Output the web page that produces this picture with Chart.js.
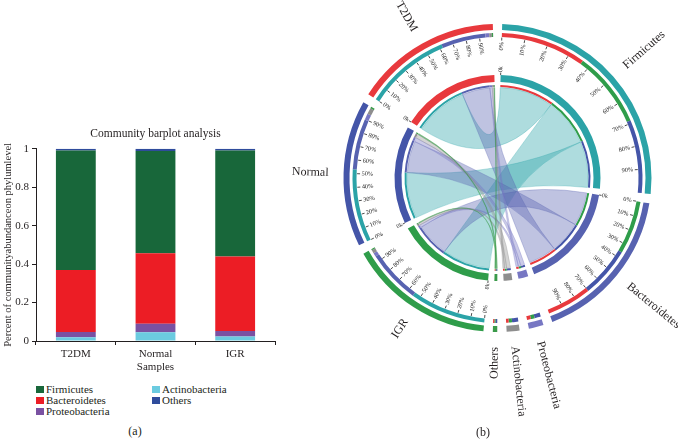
<!DOCTYPE html>
<html>
<head>
<meta charset="utf-8">
<script src="https://cdn.jsdelivr.net/npm/chart.js@4.4.1/dist/chart.umd.min.js"></script>
<style>
    body { margin: 0; background: #fff; width: 678px; height: 447px; overflow: hidden; position: relative;
           font-family: "Liberation Serif", "DejaVu Serif", serif; color: #231f20; }
    #bar { position: absolute; left: 0; top: 120px; }
    #chord { position: absolute; left: 290px; top: 0; }
    #legend { position: absolute; left: 36px; top: 384px; display: grid; grid-auto-flow: column;
              grid-template-rows: repeat(3, 11px); grid-template-columns: 116px 116px; font-size: 11px; line-height: 11px; }
    #legend span.box { display: inline-block; width: 8px; height: 7px; margin-right: 2px; vertical-align: 0px; }
    .cap { position: absolute; font-size: 12px; line-height: 12px; transform: translateX(-50%); }
</style>
</head>
<body>
<canvas id="bar" width="290" height="260"></canvas>
<canvas id="chord" width="388" height="447"></canvas>
<div id="legend"></div>
<div class="cap" style="left:135px; top:425px">(a)</div>
<div class="cap" style="left:483px; top:426px">(b)</div>
<script>
// values (fraction of each sample)
const samples = ['T2DM', 'Normal', 'IGR'];
const phyla = ['Firmicutes', 'Bacteroidetes', 'Proteobacteria', 'Actinobacteria', 'Others'];
const firmicutes = [0.621, 0.531, 0.551];
const bacteroidetes = [0.323, 0.367, 0.388];
const proteobacteria = [0.028, 0.045, 0.028];
const actinobacteria = [0.019, 0.045, 0.024];
const others = [0.009, 0.012, 0.009];
const yTicks = [0, 0.2, 0.4, 0.6, 0.8, 1];
const pctLabels = ['0%', '10%', '20%', '30%', '40%', '50%', '60%', '70%', '80%', '90%'];

// stacking order of the bars, bottom to top
const stackOrder = ['Actinobacteria', 'Proteobacteria', 'Bacteroidetes', 'Firmicutes', 'Others'];
// circle segments, clockwise from 12 o'clock
const circleOrder = ['Firmicutes', 'Bacteroidetes', 'Proteobacteria', 'Actinobacteria', 'Others', 'IGR', 'Normal', 'T2DM'];
// order of ribbons inside each phylum segment
const linkOrder = {
    Firmicutes: ['T2DM', 'IGR', 'Normal'],
    Bacteroidetes: ['IGR', 'Normal', 'T2DM'],
    Proteobacteria: ['Normal', 'IGR', 'T2DM'],
    Actinobacteria: ['Normal', 'IGR', 'T2DM'],
    Others: ['Normal', 'IGR', 'T2DM']
};

const SERIES = {
    Firmicutes: firmicutes, Bacteroidetes: bacteroidetes, Proteobacteria: proteobacteria,
    Actinobacteria: actinobacteria, Others: others
};
const BAR_COLORS = {
    Firmicutes: '#18673a', Bacteroidetes: '#ec1d25', Proteobacteria: '#7a51a2',
    Actinobacteria: '#6bcbe0', Others: '#2f4c9c'
};
const CIRCLE_COLORS = {
    T2DM: '#e8393d', Normal: '#4455a8', IGR: '#2f9d4a',
    Firmicutes: '#2ba3a7', Bacteroidetes: '#5762b0', Proteobacteria: '#7777c3',
    Actinobacteria: '#8e8e8e', Others: '#3a9a4a'
};
const INK = '#231f20';
const SERIF = '"Liberation Serif", "DejaVu Serif", serif';
Chart.defaults.font.family = SERIF;
Chart.defaults.color = INK;

const abundance = (sample, phylum) => SERIES[phylum][samples.indexOf(sample)];

function alpha(hex, a) {
    const n = parseInt(hex.slice(1), 16);
    return `rgba(${n >> 16}, ${(n >> 8) & 255}, ${n & 255}, ${a})`;
}

// ---------- (a) stacked bar ----------
new Chart(document.getElementById('bar'), {
    type: 'bar',
    data: {
        labels: samples,
        datasets: stackOrder.map(p => ({
            label: p,
            data: SERIES[p],
            backgroundColor: BAR_COLORS[p],
            borderWidth: 0,
            categoryPercentage: 1,
            barPercentage: 0.5
        }))
    },
    options: {
        responsive: false,
        animation: false,
        events: [],
        layout: { padding: { left: 0, right: 15, top: 0, bottom: 0 } },
        plugins: {
            legend: { display: false },
            tooltip: { enabled: false },
            title: {
                display: true,
                fullSize: false,
                text: 'Community barplot analysis',
                color: INK,
                font: { size: 11.5, weight: 'normal' },
                padding: { top: 7, bottom: 8 }
            }
        },
        scales: {
            x: {
                stacked: true,
                grid: { offset: true, drawOnChartArea: false, tickLength: 4, color: INK },
                border: { color: INK },
                ticks: { color: INK, font: { size: 11 }, padding: 3 },
                title: { display: true, text: 'Samples', color: INK, font: { size: 11 }, padding: { top: 0, bottom: 6 } },
                afterFit: s => { s.height = 39; }
            },
            y: {
                stacked: true,
                min: 0,
                max: 1,
                afterBuildTicks: axis => { axis.ticks = yTicks.map(v => ({ value: v })); },
                grid: { drawOnChartArea: false, tickLength: 4, color: INK },
                border: { color: INK },
                ticks: { color: INK, font: { size: 11 }, padding: 3, callback: v => String(v) },
                title: {
                    display: true, text: 'Percent of communityabundanceon phylumlevel', color: INK,
                    font: { size: 10.5 }, padding: { top: 2, bottom: 0 }
                },
                afterFit: s => { s.width = 36; }
            }
        }
    }
});

// legend, column-wise like the figure
const legendEl = document.getElementById('legend');
phyla.forEach(p => {
    const item = document.createElement('div');
    item.innerHTML = `<span class="box" style="background:${BAR_COLORS[p]}"></span>${p}`;
    legendEl.appendChild(item);
});

// ---------- (b) chord diagram ----------
const segments = circleOrder.map(name => {
    const isSample = samples.includes(name);
    const parts = isSample
        ? phyla.map(p => ({ other: p, value: abundance(name, p) }))
        : linkOrder[name].map(s => ({ other: s, value: abundance(s, name) }));
    return { name, isSample, parts, total: parts.reduce((a, b) => a + b.value, 0) };
});

const GAP_DEG = 3.5;
const grandTotal = segments.reduce((a, s) => a + s.total, 0);
const gapValue = grandTotal * GAP_DEG / (360 - GAP_DEG * segments.length);
const CLEAR = 'rgba(0,0,0,0)';

const segData = [], segColors = [], partData = [], partColors = [];
const partIndex = {};
segments.forEach(seg => {
    segData.push(seg.total, gapValue);
    segColors.push(CIRCLE_COLORS[seg.name], CLEAR);
    seg.parts.forEach(p => {
        partIndex[seg.name + '|' + p.other] = partData.length;
        partData.push(p.value);
        partColors.push(CIRCLE_COLORS[p.other]);
    });
    partData.push(gapValue);
    partColors.push(CLEAR);
});

const ring = (data, colors, weight) => ({
    data, backgroundColor: colors, weight, borderWidth: 0, hoverBorderWidth: 0, hoverOffset: 0, offset: 0
});
const spacer = weight => ring([grandTotal], [CLEAR], weight);

function radialText(ctx, cx, cy, ang, r, text, outward) {
    const right = Math.cos(ang) >= 0;
    ctx.save();
    ctx.translate(cx + r * Math.cos(ang), cy + r * Math.sin(ang));
    ctx.rotate(right ? ang : ang + Math.PI);
    ctx.textBaseline = 'middle';
    ctx.textAlign = outward ? (right ? 'left' : 'right') : (right ? 'right' : 'left');
    ctx.fillText(text, 0, 0);
    ctx.restore();
}

function radialLine(ctx, cx, cy, ang, r1, r2) {
    ctx.beginPath();
    ctx.moveTo(cx + r1 * Math.cos(ang), cy + r1 * Math.sin(ang));
    ctx.lineTo(cx + r2 * Math.cos(ang), cy + r2 * Math.sin(ang));
    ctx.stroke();
}

const chordPlugin = {
    id: 'chords',
    afterDatasetsDraw(chart) {
        const ctx = chart.ctx;
        const outerArcs = chart.getDatasetMeta(0).data;
        const partArcs = chart.getDatasetMeta(2).data;
        const innerArcs = chart.getDatasetMeta(4).data;
        const linkArcs = chart.getDatasetMeta(6).data;
        const cx = outerArcs[0].x, cy = outerArcs[0].y;
        ctx.save();

        // ribbons
        phyla.forEach(p => {
            samples.forEach(s => {
                const a = linkArcs[partIndex[s + '|' + p]];
                const b = linkArcs[partIndex[p + '|' + s]];
                const r = a.innerRadius - 0.5;
                ctx.beginPath();
                ctx.arc(cx, cy, r, a.startAngle, a.endAngle);
                ctx.quadraticCurveTo(cx, cy, cx + r * Math.cos(b.startAngle), cy + r * Math.sin(b.startAngle));
                ctx.arc(cx, cy, r, b.startAngle, b.endAngle);
                ctx.quadraticCurveTo(cx, cy, cx + r * Math.cos(a.startAngle), cy + r * Math.sin(a.startAngle));
                ctx.closePath();
                ctx.fillStyle = alpha(CIRCLE_COLORS[p], p === 'Others' ? 0.6 : 0.38);
                ctx.fill();
                ctx.strokeStyle = alpha(CIRCLE_COLORS[p], 0.5);
                ctx.lineWidth = 0.6;
                ctx.stroke();
            });
        });

        // percent ticks on the outer scale, 0k ticks on the inner ring, names
        ctx.strokeStyle = '#222';
        ctx.fillStyle = '#222';
        ctx.lineWidth = 0.8;
        segments.forEach((seg, i) => {
            const arc = outerArcs[2 * i];
            const span = arc.endAngle - arc.startAngle;
            const big = seg.total > 0.5;
            if (big) {
                const rIn = partArcs[partIndex[seg.name + '|' + seg.parts[0].other]].innerRadius;
                ctx.font = `6.3px ${SERIF}`;
                pctLabels.forEach((lab, k) => {
                    const ang = arc.startAngle + span * k / 10;
                    radialLine(ctx, cx, cy, ang, rIn - 3.5, rIn - 0.5);
                    radialText(ctx, cx, cy, ang, rIn - 5, lab, false);
                });
                const inner = innerArcs[2 * i];
                radialLine(ctx, cx, cy, inner.startAngle, inner.outerRadius, inner.outerRadius + 2.5);
                ctx.font = `5.8px ${SERIF}`;
                radialText(ctx, cx, cy, inner.startAngle, inner.outerRadius + 3, '0k', true);
            }
            ctx.font = `12px ${SERIF}`;
            ctx.fillStyle = INK;
            radialText(ctx, cx, cy, arc.startAngle + span / 2, arc.outerRadius + 15, seg.name, true);
            ctx.fillStyle = '#222';
        });
        ctx.restore();
    }
};

new Chart(document.getElementById('chord'), {
    type: 'doughnut',
    data: {
        datasets: [
            ring(segData, segColors, 6),
            spacer(3),
            ring(partData, partColors, 4),
            spacer(38),
            ring(segData, segColors, 7),
            spacer(3),
            ring(partData, partColors, 2)
        ]
    },
    options: {
        responsive: false,
        animation: false,
        events: [],
        cutout: 91,
        rotation: GAP_DEG / 2,
        layout: { padding: { left: 53.5, top: 24, right: 26.5, bottom: 115 } },
        plugins: { legend: { display: false }, tooltip: { enabled: false } }
    },
    plugins: [chordPlugin]
});
</script>
</body>
</html>
